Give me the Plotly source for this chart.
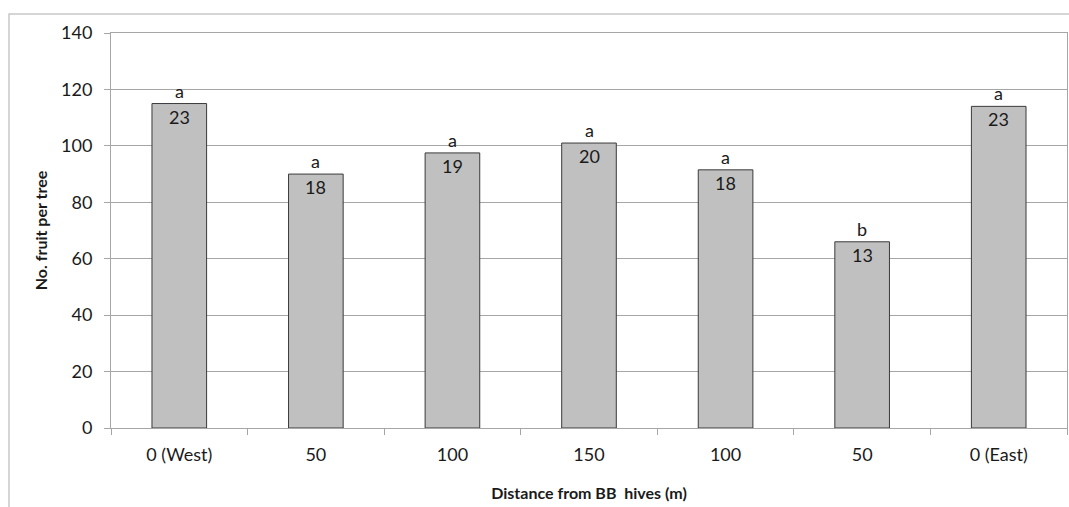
import plotly.graph_objects as go

categories = ["0 (West)", "50", "100", "150", "100", "50", "0 (East)"]
fruit_per_tree = [115, 90, 97.5, 101, 91.5, 66, 114]
n_trees = [23, 18, 19, 20, 18, 13, 23]
letters = ["a", "a", "a", "a", "a", "b", "a"]

positions = list(range(len(categories)))
boundaries = [p - 0.5 for p in positions] + [positions[-1] + 0.5]

FONT = "Lato, 'Open Sans', sans-serif"
GRID = "#a6a6a6"
TEXT = "#1a1a1a"

fig = go.Figure()
fig.add_trace(
    go.Bar(
        x=positions,
        y=fruit_per_tree,
        width=0.4,
        marker=dict(color="#c0c0c0", line=dict(color="#3a3a3a", width=1)),
        showlegend=False,
        hoverinfo="skip",
    )
)
# invisible trace so the boundary tick axis is drawn
fig.add_trace(
    go.Scatter(
        x=positions,
        y=fruit_per_tree,
        mode="markers",
        marker=dict(opacity=0),
        showlegend=False,
        hoverinfo="skip",
        xaxis="x2",
    )
)

annotations = []
for pos, val, n, letter in zip(positions, fruit_per_tree, n_trees, letters):
    # sample size just inside the top of the bar
    annotations.append(
        dict(x=pos, y=val, text=str(n), showarrow=False, yanchor="top",
             yshift=0, font=dict(size=18, color=TEXT))
    )
    # significance letter above the bar
    annotations.append(
        dict(x=pos, y=val, text=letter, showarrow=False, yanchor="bottom",
             yshift=0, font=dict(size=18, color=TEXT))
    )

x_range = [boundaries[0], boundaries[-1]]
fig.update_layout(
    width=1069,
    height=507,
    margin=dict(l=111, r=2, t=33, b=79),
    paper_bgcolor="white",
    plot_bgcolor="white",
    font=dict(family=FONT, size=18, color=TEXT),
    annotations=annotations,
    xaxis=dict(
        range=x_range,
        tickvals=positions,
        ticktext=categories,
        ticks="",
        ticklabelstandoff=10,
        showgrid=False,
        zeroline=False,
        showline=True,
        linecolor=GRID,
        linewidth=1,
        mirror=True,
        automargin=False,
        title=dict(
            text="<b>Distance from BB  hives (m)</b>",
            font=dict(size=16),
            standoff=24,
        ),
        fixedrange=True,
    ),
    xaxis2=dict(
        range=x_range,
        overlaying="x",
        side="bottom",
        tickvals=boundaries,
        showticklabels=False,
        ticks="outside",
        ticklen=6,
        tickcolor=GRID,
        showgrid=False,
        zeroline=False,
        showline=False,
    ),
    yaxis=dict(
        range=[0, 140],
        dtick=20,
        ticks="outside",
        ticklen=6,
        tickcolor=GRID,
        ticklabelstandoff=8,
        showgrid=True,
        gridcolor=GRID,
        gridwidth=1,
        zeroline=False,
        showline=True,
        linecolor=GRID,
        linewidth=1,
        mirror=True,
        automargin=False,
        title=dict(
            text="<b>No. fruit per tree</b>",
            font=dict(size=16),
            standoff=9,
        ),
    ),
    shapes=[
        dict(
            type="path",
            xref="paper",
            yref="paper",
            path="M -0.1067 -0.3 L -0.1067 1.048 L 1.01 1.048",
            line=dict(color="#c8c8c8", width=1.5),
        )
    ],
)

fig.write_html(
    "out.html",
    config={"displayModeBar": False},
    post_script="document.body.style.margin = '0';",
)
